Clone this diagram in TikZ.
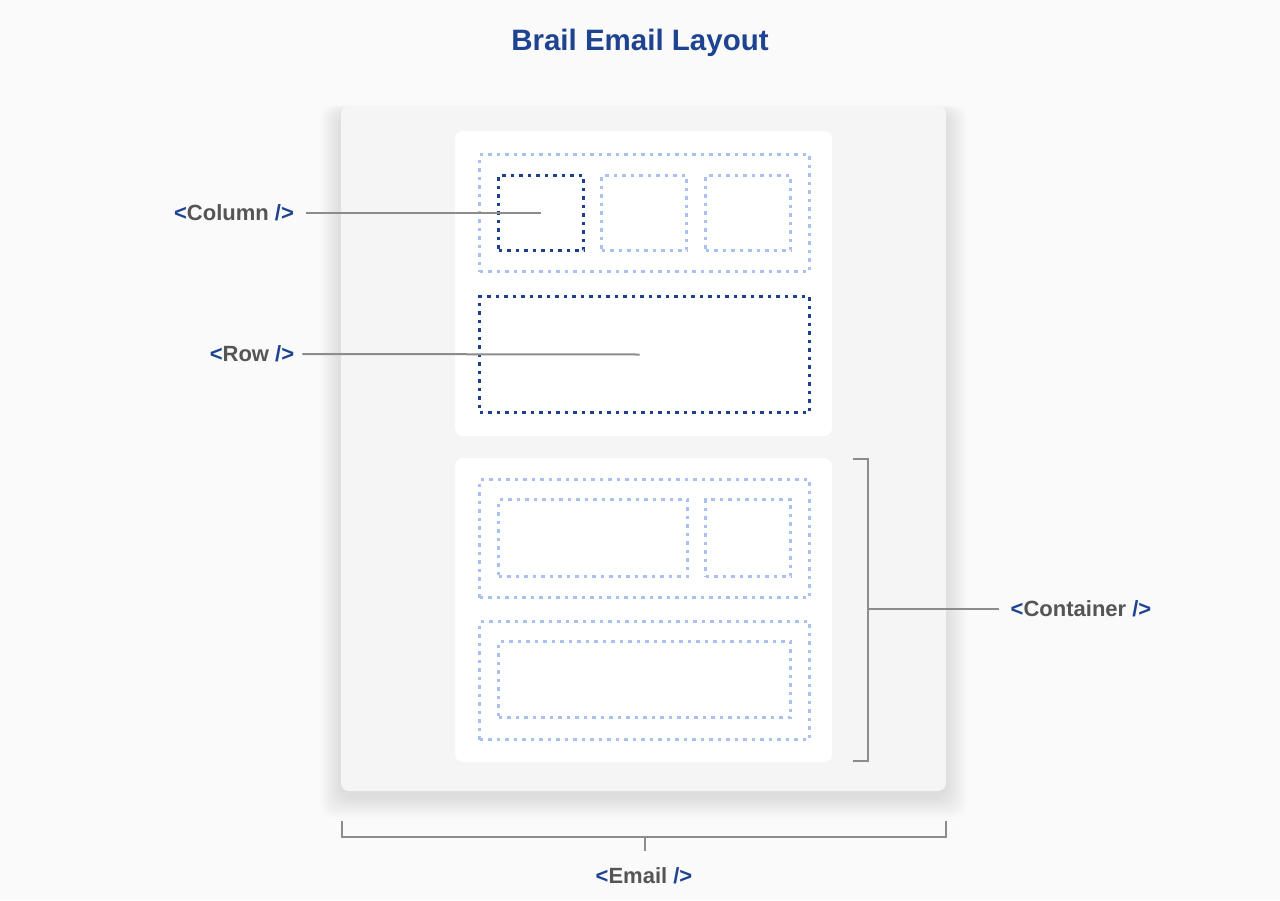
\documentclass[tikz,border=0pt]{standalone}
\usepackage{fontspec}
\setmainfont{Liberation Sans}
\usepackage{xcolor}
\usetikzlibrary{positioning}

\definecolor{brailblue}{HTML}{1E4390}
\definecolor{lightdot}{HTML}{AAC0EE}
\definecolor{darkdot}{HTML}{1C3F8E}
\definecolor{panelgray}{HTML}{F5F5F5}
\definecolor{pagebg}{HTML}{FAFAFA}
\definecolor{linegray}{HTML}{8C8C8C}
\definecolor{labelgray}{HTML}{555555}

\newcommand{\tagtext}[1]{\textcolor{brailblue}{<}#1 \textcolor{brailblue}{/>}}

\tikzset{
    box/.style={rectangle, inner sep=0pt, outer sep=0pt, anchor=north west},
    card/.style={box, fill=white, rounded corners=8pt},
    lightbox/.style={box, draw=lightdot, line width=3.5pt, dash pattern=on 3.5pt off 5pt},
    darkbox/.style={box, draw=darkdot, line width=3.5pt, dash pattern=on 3.5pt off 5pt},
    conn/.style={draw=linegray, line width=2pt},
    taglabel/.style={inner sep=0pt, text=labelgray, font=\bfseries\fontsize{22}{26}\selectfont}
}

\begin{document}
\begin{tikzpicture}[x=1pt, y=-1pt]
    % page
    \useasboundingbox[fill=pagebg] (0,0) rectangle (1280,900);

    % Title
    \node[text=brailblue, font=\bfseries\fontsize{29.5}{34}\selectfont] (title) at (640,43) {Brail Email Layout};

    % Soft shadow under the email panel
    \foreach \s in {1,...,14} {
        \fill[black, opacity=0.006, rounded corners=14pt]
            (341-\s*1.5, 106-\s*0.5+6) rectangle (946+\s*1.5, 791+\s*1.5+6);
    }

    % Email panel and cards
    \node[box, fill=panelgray, rounded corners=8pt, minimum width=605pt, minimum height=685pt] (email) at (341,106) {};
    \node[card, minimum width=377pt, minimum height=305pt] (topcard) at (455,131) {};
    \node[card, minimum width=377pt, minimum height=304pt] (botcard) at (455,458) {};

    % Top card: row of columns
    \node[lightbox, minimum width=330pt, minimum height=117pt] (toprow) at (479.5,154.5) {};
    \node[darkbox, minimum width=85pt, minimum height=75pt] (col1) at (498.5,175.5) {};
    \node[lightbox, minimum width=85pt, minimum height=75pt] (col2) at (601.5,175.5) {};
    \node[lightbox, minimum width=85pt, minimum height=75pt] (col3) at (705.5,175.5) {};

    % Top card: single row
    \node[darkbox, minimum width=330pt, minimum height=116pt] (bigrow) at (479.5,296.5) {};

    % Bottom card
    \node[lightbox, minimum width=330pt, minimum height=118pt] (rowa) at (479.5,479.5) {};
    \node[lightbox, minimum width=189pt, minimum height=77pt] (cola1) at (498.5,499.5) {};
    \node[lightbox, minimum width=85pt, minimum height=77pt] (cola2) at (705.5,499.5) {};
    \node[lightbox, minimum width=330pt, minimum height=118pt] (rowb) at (479.5,621.5) {};
    \node[lightbox, minimum width=292pt, minimum height=76pt] (colb1) at (498.5,641.5) {};

    % Labels
    \node[taglabel] (columnlabel) at (234,213) {\tagtext{Column}};
    \node[taglabel] (rowlabel) at (252,354) {\tagtext{Row}};
    \node[taglabel] (containerlabel) at (1081,609) {\tagtext{Container}};
    \node[taglabel] (emaillabel) at (644,876) {\tagtext{Email}};

    % Leader lines
    \draw[conn] ([xshift=12pt]columnlabel.east) -- (col1.center);
    \draw[conn] ([xshift=8pt]rowlabel.east) -- ([xshift=-5pt]bigrow.center);

    % Container bracket
    \coordinate (ctop) at (853,459);
    \coordinate (cmid) at (868,609);
    \draw[conn] (ctop) -- ++(15,0) -- ++(0,302) -- ++(-15,0);
    \draw[conn] (cmid) -- ([xshift=-12pt]containerlabel.west);

    % Email bracket
    \coordinate (eleft) at (342,821);
    \coordinate (emid) at (645,837);
    \draw[conn] (eleft) -- ++(0,16) -- ++(604,0) -- ++(0,-16);
    \draw[conn] (emid) -- ++(0,14);
\end{tikzpicture}
\end{document}
